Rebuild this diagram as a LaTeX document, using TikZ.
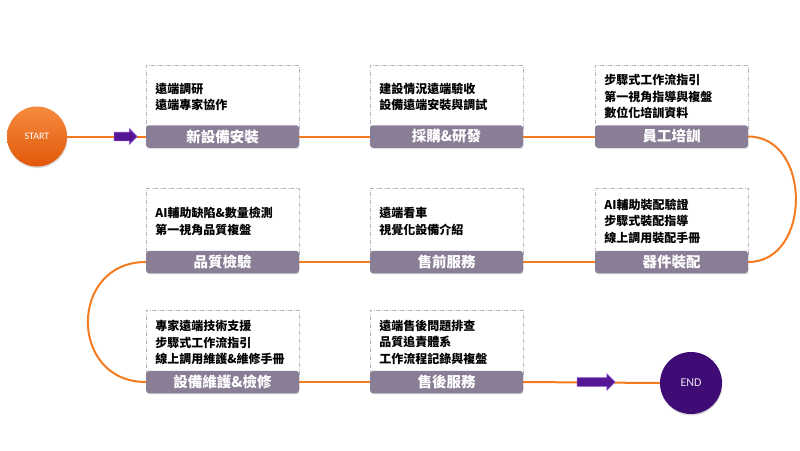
\documentclass[tikz,border=0pt]{standalone}
\usepackage{fontspec}
\setsansfont{Carlito}
\newfontfamily\cjk{Noto Sans CJK TC}
\usetikzlibrary{shapes.arrows,shadows,backgrounds}
\definecolor{barc}{RGB}{138,126,150}
\definecolor{dashc}{RGB}{180,180,190}
\definecolor{flowc}{RGB}{244,123,32}
\definecolor{arrc}{RGB}{84,22,146}
\definecolor{arredge}{RGB}{140,80,210}
\definecolor{startc}{RGB}{243,118,28}
\definecolor{startd}{RGB}{226,88,10}
\definecolor{endc}{RGB}{62,12,116}
\tikzset{
  bar/.style={fill=barc, rounded corners=3pt, minimum width=153pt, minimum height=22.5pt, inner sep=0pt,
    text=white, font=\cjk\bfseries\fontsize{14.5}{16}\selectfont,
    drop shadow={opacity=0.25, shadow xshift=0.6pt, shadow yshift=-1.2pt}},
  desc/.style={draw=dashc, dash pattern=on 4pt off 1.5pt on 1pt off 1.5pt, line width=0.8pt,
    minimum width=153pt, text width=135pt, align=left, inner sep=0pt, anchor=north west,
    font=\cjk\bfseries\fontsize{12}{16.5}\selectfont},
  flow/.style={draw=flowc, line width=2pt},
  parrow/.style={single arrow, fill=arrc, draw=arredge, line width=0.6pt, inner xsep=0pt,
    inner ysep=4pt, single arrow head extend=3.5pt},
  startnode/.style={circle, minimum size=60pt, inner sep=0pt, top color=startc!85!white, bottom color=startd,
    text=white, font=\sffamily\fontsize{10}{11}\selectfont,
    drop shadow={opacity=0.3, shadow xshift=0.5pt, shadow yshift=-1.5pt}},
  endnode/.style={circle, minimum size=62pt, inner sep=0pt, fill=endc,
    text=white!88!endc, font=\sffamily\fontsize{12}{13}\selectfont,
    drop shadow={opacity=0.3, shadow xshift=0.5pt, shadow yshift=-1.5pt}}
}
\begin{document}
\begin{tikzpicture}[x=1pt,y=-1pt]
\useasboundingbox (0,0) rectangle (800,450);

% description boxes
\node[desc, minimum height=63pt] (d1) at (146,65) {遠端調研\\遠端專家協作};
\node[desc, minimum height=63pt] (d2) at (370,65) {建設情況遠端驗收\\設備遠端安裝與調試};
\node[desc, minimum height=63pt] (d3) at (595,65) {步驟式工作流指引\\第一視角指導與複盤\\數位化培訓資料};
\node[desc, minimum height=66pt] (d4) at (146,188) {AI輔助缺陷\&數量檢測\\第一視角品質複盤};
\node[desc, minimum height=66pt] (d5) at (370,188) {遠端看車\\視覺化設備介紹};
\node[desc, minimum height=66pt] (d6) at (595,188) {AI輔助裝配驗證\\步驟式裝配指導\\線上調用裝配手冊};
\node[desc, minimum height=64pt] (d7) at (146,310) {專家遠端技術支援\\步驟式工作流指引\\線上調用維護\&維修手冊};
\node[desc, minimum height=64pt] (d8) at (370,310) {遠端售後問題排查\\品質追責體系\\工作流程記錄與複盤};

% label bars
\node[bar] (b1) at (222.5,136.5) {新設備安裝};
\node[bar] (b2) at (446.5,136.5) {採購\&研發};
\node[bar] (b3) at (671.5,136.5) {員工培訓};
\node[bar] (b4) at (222.5,262) {品質檢驗};
\node[bar] (b5) at (446.5,262) {售前服務};
\node[bar] (b6) at (671.5,262) {器件裝配};
\node[bar] (b7) at (222.5,382) {設備維護\&檢修};
\node[bar] (b8) at (446.5,382) {售後服務};

% start / end
\node[startnode] (start) at (37,136.5) {START};
\node[endnode] (end) at (691,383) {END};

% arrows on the flow line
\node[parrow, minimum height=23pt] (a1) at (123.5,136.5) {};
\node[parrow, minimum height=38pt, single arrow head extend=4pt] (a2) at (594,382) {};

% flow connectors
\begin{scope}[on background layer]
\draw[flow] (start.east) -- (b1.west);
\draw[flow] (b1.east) -- (b2.west);
\draw[flow] (b2.east) -- (b3.west);
\draw[flow] (b3.east) to[out=0,in=0,looseness=1.3] (b6.east);
\draw[flow] (b6.west) -- (b5.east);
\draw[flow] (b5.west) -- (b4.east);
\draw[flow] (b4.west) to[out=180,in=180,looseness=1.65] (b7.west);
\draw[flow] (b7.east) -- (b8.west);
\draw[flow] (b8.east) -- (end.west);
\end{scope}
\end{tikzpicture}
\end{document}
